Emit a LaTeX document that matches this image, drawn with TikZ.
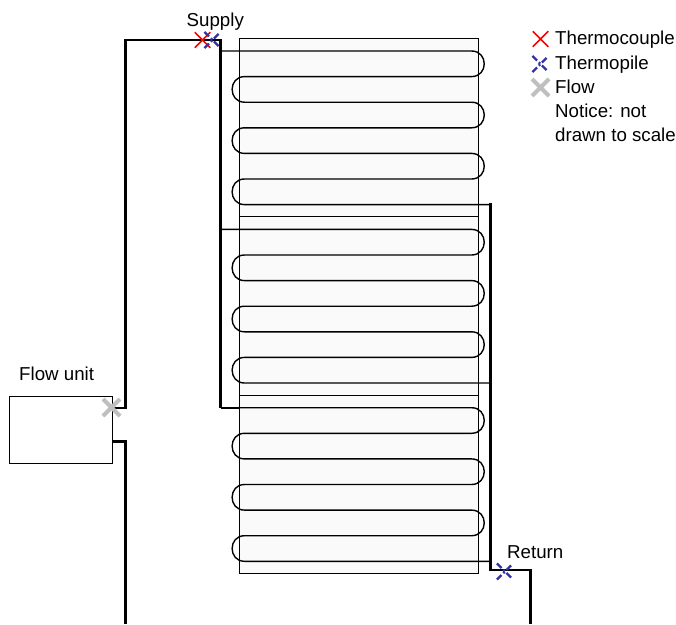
\documentclass[tikz,border=0pt]{standalone}
\usepackage{fontspec}
\setmainfont{Liberation Sans}
\usetikzlibrary{shapes.misc}
\definecolor{platefill}{gray}{0.98}
\definecolor{pileblue}{RGB}{50,50,160}
\tikzset{
    plate/.style={draw,fill=platefill,line width=0.9pt,minimum width=239pt,minimum height=178.5pt,inner sep=0pt},
    unitbox/.style={draw,line width=0.9pt,minimum width=103.5pt,minimum height=67.5pt,inner sep=0pt},
    pipe/.style={line width=2.8pt},
    feed/.style={line width=1.3pt},
    coil/.style={line width=1.4pt},
    label/.style={font=\fontsize{18.7}{22}\selectfont,inner sep=0pt,anchor=base west},
    tcouple/.style={cross out,draw=red,line width=1.5pt,minimum size=14pt,inner sep=0pt},
    tpile/.style={cross out,draw=pileblue,line width=2.2pt,minimum size=14pt,inner sep=0pt,
        dash pattern=on 6.5pt off 2.5pt on 2pt off 2.5pt on 6.5pt},
    flowmark/.style={cross out,draw=black!25,line width=4pt,minimum size=13pt,inner sep=0pt}
}
\begin{document}
\begin{tikzpicture}[x=1pt,y=-1pt]
    \useasboundingbox (0,0) rectangle (676,624);
    % plates
    \node[plate] (plateA) at (359,127.75) {};
    \node[plate] (plateB) at (359,306) {};
    \node[plate] (plateC) at (359,484.25) {};
    % serpentine in each plate
    \foreach \yi in {51,229.4,407.7}{
        \draw[coil] (221,\yi)--(471.5,\yi)
            \foreach \n in {0,2,4}{
                .. controls (488.5,{\yi+\n*25.6}) and (488.5,{\yi+(\n+1)*25.6}) .. (471.5,{\yi+(\n+1)*25.6})
                --(244.5,{\yi+(\n+1)*25.6})
                .. controls (228,{\yi+(\n+1)*25.6}) and (228,{\yi+(\n+2)*25.6}) .. (244.5,{\yi+(\n+2)*25.6})
                --(471.5,{\yi+(\n+2)*25.6})
            }
            --(490.5,{\yi+153.6});
    }
    % flow unit
    \node[unitbox] (unit) at (60.75,430) {};
    \node[label] (unitlabel) at (19,380) {Flow unit};
    % pipe corners
    \coordinate (unitout) at (112.5,408);
    \coordinate (riser) at (125.5,408);
    \coordinate (risertop) at (125.5,40);
    \coordinate (supply) at (220.5,40);
    \coordinate (supplyend) at (220.5,408);
    \coordinate (feedC) at (240,408);
    \coordinate (unitin) at (112.5,441.5);
    \coordinate (drain) at (125.5,441.5);
    \coordinate (drainend) at (125.5,624);
    \coordinate (collect) at (490.5,203);
    \coordinate (collectend) at (490.5,570);
    \coordinate (returnpipe) at (530.5,570);
    \coordinate (returnend) at (530.5,624);
    % pipes
    \draw[pipe] (unitout)--(riser)--(risertop)--(supply)--(supplyend);
    \draw[pipe] (collect)--(collectend)--(returnpipe)--(returnend);
    \draw[pipe] (unitin)--(drain)--(drainend);
    \draw[feed] (supplyend)--(feedC);
    % sensors
    \node[tcouple] (supplytc) at (202.5,40) {};
    \node[tpile] (supplytp) at (212.5,40) {};
    \node[tpile] (returntp) at (505,571.5) {};
    \node[flowmark] (flowpt) at (111.5,407.5) {};
    \node[label] (supplylabel) at (186.5,26) {Supply};
    \node[label] (returnlabel) at (507,558.5) {Return};
    % legend
    \node[tcouple] (legtc) at (540.5,39) {};
    \node[tpile] (legtp) at (540.5,64) {};
    \node[flowmark] (legflow) at (540.5,87.5) {};
    \foreach \nm/\yi/\txt in {a/44/Thermocouple,b/69/Thermopile,c/93/Flow,d/117/Notice: not,e/141/drawn to scale}{
        \node[label] (leg\nm) at (555,\yi) {\txt};
    }
\end{tikzpicture}
\end{document}
